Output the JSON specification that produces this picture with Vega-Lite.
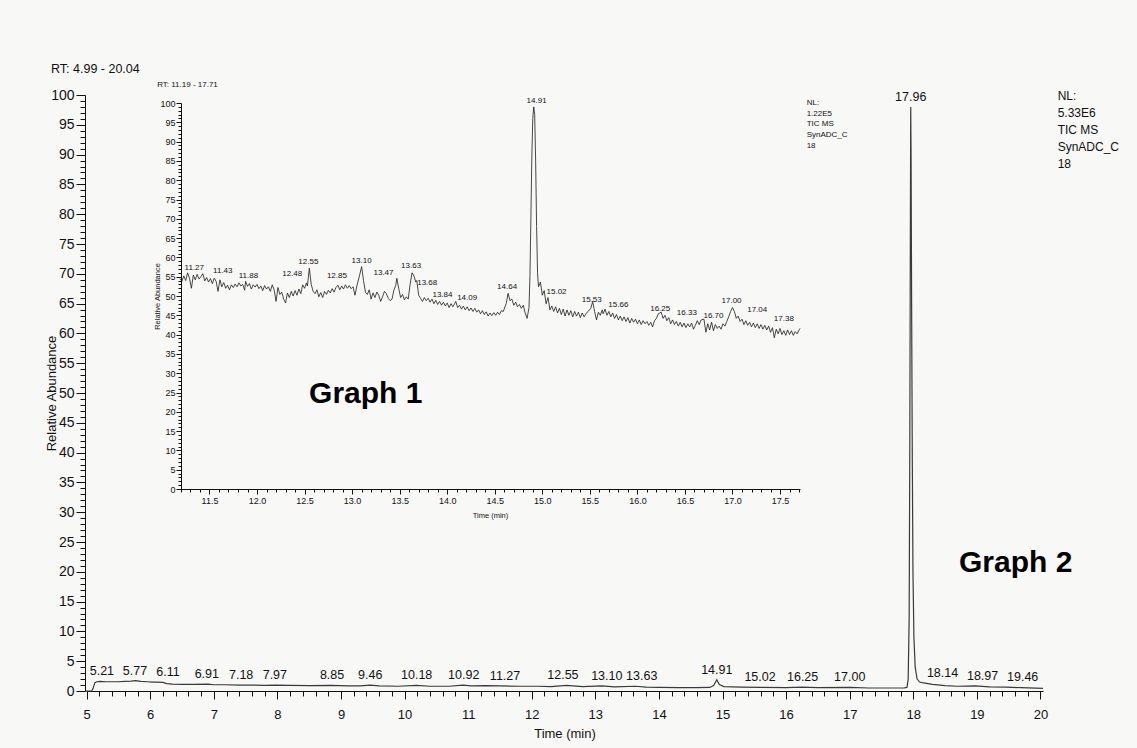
{
"$schema": "https://vega.github.io/schema/vega-lite/v6.json",
"width": 957, "height": 596,
"autosize": "none",
"padding": {"left": 86, "top": 95, "right": 94, "bottom": 57},
"background": "#f8f8f6",
"config": {"view": {"stroke": null}, "font": "Liberation Sans", "axis": {"grid": false, "domainColor": "#111", "tickColor": "#111", "labelColor": "#111", "titleColor": "#111", "labelOverlap": false, "labelFlush": false, "labelBound": false, "titleFontWeight": "normal", "labelFont": "Liberation Sans", "titleFont": "Liberation Sans"}},
"datasets": {
"main": [
{"rt":4.99,"ab":0},{"rt":5.08,"ab":0},{"rt":5.10,"ab":0.4},{"rt":5.13,"ab":1.4},{"rt":5.16,"ab":1.55},{"rt":5.21,"ab":1.6},{"rt":5.30,"ab":1.55},{"rt":5.40,"ab":1.55},{"rt":5.50,"ab":1.55},{"rt":5.60,"ab":1.6},{"rt":5.70,"ab":1.65},{"rt":5.77,"ab":1.75},{"rt":5.85,"ab":1.6},{"rt":5.95,"ab":1.55},{"rt":6.05,"ab":1.5},{"rt":6.11,"ab":1.5},{"rt":6.20,"ab":1.45},{"rt":6.26,"ab":1.25},{"rt":6.35,"ab":1.15},{"rt":6.50,"ab":1.1},{"rt":6.70,"ab":1.1},{"rt":6.91,"ab":1.15},{"rt":7.00,"ab":1.05},{"rt":7.18,"ab":1.05},{"rt":7.40,"ab":1.0},{"rt":7.60,"ab":1.0},{"rt":7.80,"ab":0.95},{"rt":7.97,"ab":1.0},{"rt":8.20,"ab":0.95},{"rt":8.50,"ab":0.9},{"rt":8.85,"ab":0.95},{"rt":9.10,"ab":0.85},{"rt":9.30,"ab":0.85},{"rt":9.46,"ab":1.0},{"rt":9.60,"ab":0.85},{"rt":9.90,"ab":0.8},{"rt":10.18,"ab":0.95},{"rt":10.40,"ab":0.8},{"rt":10.70,"ab":0.8},{"rt":10.92,"ab":1.0},{"rt":11.05,"ab":0.85},{"rt":11.27,"ab":0.9},{"rt":11.50,"ab":0.85},{"rt":11.80,"ab":0.8},{"rt":12.10,"ab":0.8},{"rt":12.30,"ab":0.75},{"rt":12.55,"ab":0.95},{"rt":12.80,"ab":0.75},{"rt":13.10,"ab":0.85},{"rt":13.30,"ab":0.7},{"rt":13.63,"ab":0.8},{"rt":13.80,"ab":0.65},{"rt":14.00,"ab":0.6},{"rt":14.30,"ab":0.55},{"rt":14.60,"ab":0.55},{"rt":14.80,"ab":0.6},{"rt":14.86,"ab":0.9},{"rt":14.91,"ab":1.9},{"rt":14.95,"ab":1.1},{"rt":15.02,"ab":0.75},{"rt":15.30,"ab":0.65},{"rt":15.60,"ab":0.6},{"rt":16.00,"ab":0.55},{"rt":16.25,"ab":0.65},{"rt":16.50,"ab":0.55},{"rt":17.00,"ab":0.6},{"rt":17.30,"ab":0.5},{"rt":17.60,"ab":0.5},{"rt":17.85,"ab":0.5},{"rt":17.90,"ab":0.6},{"rt":17.92,"ab":2.0},{"rt":17.935,"ab":12},{"rt":17.945,"ab":40},{"rt":17.955,"ab":80},{"rt":17.96,"ab":98},{"rt":17.965,"ab":90},{"rt":17.975,"ab":62},{"rt":17.985,"ab":38},{"rt":17.995,"ab":20},{"rt":18.01,"ab":9},{"rt":18.03,"ab":4},{"rt":18.06,"ab":2},{"rt":18.10,"ab":1.5},{"rt":18.14,"ab":1.4},{"rt":18.30,"ab":1.1},{"rt":18.50,"ab":0.9},{"rt":18.70,"ab":0.8},{"rt":18.97,"ab":0.85},{"rt":19.20,"ab":0.7},{"rt":19.46,"ab":0.65},{"rt":19.70,"ab":0.55},{"rt":20.04,"ab":0.45}
],
"mainPeaks": [
{"rt":5.21,"labelRt":5.24,"ab":1.6},{"rt":5.77,"labelRt":5.76,"ab":1.75},{"rt":6.11,"labelRt":6.28,"ab":1.5},{"rt":6.91,"labelRt":6.89,"ab":1.15},{"rt":7.18,"labelRt":7.43,"ab":1.05},{"rt":7.97,"labelRt":7.96,"ab":1.0},{"rt":8.85,"labelRt":8.86,"ab":0.95},{"rt":9.46,"labelRt":9.46,"ab":1.0},{"rt":10.18,"labelRt":10.19,"ab":0.95},{"rt":10.92,"labelRt":10.93,"ab":1.0},{"rt":11.27,"labelRt":11.58,"ab":0.9},{"rt":12.55,"labelRt":12.49,"ab":0.95},{"rt":13.10,"labelRt":13.18,"ab":0.85},{"rt":13.63,"labelRt":13.73,"ab":0.8},{"rt":14.91,"labelRt":14.91,"ab":1.9},{"rt":15.02,"labelRt":15.59,"ab":0.75},{"rt":16.25,"labelRt":16.26,"ab":0.65},{"rt":17.00,"labelRt":17.00,"ab":0.6},{"rt":17.96,"labelRt":17.96,"ab":98},{"rt":18.14,"labelRt":18.46,"ab":1.4},{"rt":18.97,"labelRt":19.09,"ab":0.85},{"rt":19.46,"labelRt":19.72,"ab":0.65}
],
"inset": [
{"rt":11.19,"ab":54.5},{"rt":11.21,"ab":53.8},{"rt":11.23,"ab":55.2},{"rt":11.25,"ab":54.0},{"rt":11.27,"ab":56.0},{"rt":11.29,"ab":54.6},{"rt":11.31,"ab":52.0},{"rt":11.33,"ab":55.4},{"rt":11.35,"ab":54.2},{"rt":11.37,"ab":55.6},{"rt":11.39,"ab":54.4},{"rt":11.41,"ab":55.0},{"rt":11.43,"ab":55.8},{"rt":11.45,"ab":53.9},{"rt":11.47,"ab":54.8},{"rt":11.49,"ab":53.6},{"rt":11.51,"ab":54.5},{"rt":11.53,"ab":53.2},{"rt":11.55,"ab":54.6},{"rt":11.57,"ab":53.8},{"rt":11.59,"ab":51.2},{"rt":11.61,"ab":54.2},{"rt":11.63,"ab":52.4},{"rt":11.65,"ab":53.5},{"rt":11.67,"ab":52.0},{"rt":11.69,"ab":52.8},{"rt":11.71,"ab":51.6},{"rt":11.73,"ab":52.9},{"rt":11.75,"ab":52.2},{"rt":11.77,"ab":53.1},{"rt":11.79,"ab":52.4},{"rt":11.81,"ab":53.4},{"rt":11.83,"ab":52.6},{"rt":11.85,"ab":53.0},{"rt":11.87,"ab":51.5},{"rt":11.88,"ab":53.8},{"rt":11.90,"ab":52.5},{"rt":11.92,"ab":53.2},{"rt":11.94,"ab":51.8},{"rt":11.96,"ab":52.9},{"rt":11.98,"ab":52.3},{"rt":12.00,"ab":53.0},{"rt":12.02,"ab":51.9},{"rt":12.04,"ab":52.6},{"rt":12.06,"ab":51.4},{"rt":12.08,"ab":52.7},{"rt":12.10,"ab":51.8},{"rt":12.12,"ab":52.4},{"rt":12.14,"ab":51.2},{"rt":12.16,"ab":52.9},{"rt":12.18,"ab":51.6},{"rt":12.20,"ab":48.6},{"rt":12.22,"ab":52.2},{"rt":12.24,"ab":50.4},{"rt":12.26,"ab":51.0},{"rt":12.28,"ab":49.2},{"rt":12.30,"ab":48.2},{"rt":12.32,"ab":50.8},{"rt":12.34,"ab":49.6},{"rt":12.36,"ab":51.2},{"rt":12.38,"ab":50.0},{"rt":12.40,"ab":51.4},{"rt":12.42,"ab":50.2},{"rt":12.44,"ab":51.8},{"rt":12.46,"ab":50.6},{"rt":12.48,"ab":52.9},{"rt":12.50,"ab":52.0},{"rt":12.52,"ab":53.4},{"rt":12.53,"ab":52.6},{"rt":12.55,"ab":57.2},{"rt":12.57,"ab":53.0},{"rt":12.59,"ab":51.2},{"rt":12.61,"ab":50.6},{"rt":12.63,"ab":51.6},{"rt":12.65,"ab":49.8},{"rt":12.67,"ab":50.9},{"rt":12.69,"ab":49.6},{"rt":12.71,"ab":51.2},{"rt":12.73,"ab":50.4},{"rt":12.75,"ab":51.5},{"rt":12.77,"ab":50.8},{"rt":12.79,"ab":51.9},{"rt":12.81,"ab":51.0},{"rt":12.83,"ab":52.2},{"rt":12.85,"ab":52.8},{"rt":12.87,"ab":51.6},{"rt":12.89,"ab":52.6},{"rt":12.91,"ab":51.8},{"rt":12.93,"ab":52.9},{"rt":12.95,"ab":52.0},{"rt":12.97,"ab":52.7},{"rt":12.99,"ab":51.9},{"rt":13.01,"ab":52.4},{"rt":13.03,"ab":50.2},{"rt":13.05,"ab":52.6},{"rt":13.08,"ab":55.5},{"rt":13.10,"ab":57.6},{"rt":13.12,"ab":54.0},{"rt":13.14,"ab":51.0},{"rt":13.16,"ab":50.4},{"rt":13.18,"ab":51.6},{"rt":13.20,"ab":49.2},{"rt":13.22,"ab":50.8},{"rt":13.24,"ab":49.6},{"rt":13.26,"ab":51.0},{"rt":13.28,"ab":50.2},{"rt":13.30,"ab":48.6},{"rt":13.32,"ab":49.8},{"rt":13.34,"ab":51.2},{"rt":13.36,"ab":50.6},{"rt":13.38,"ab":49.4},{"rt":13.40,"ab":48.8},{"rt":13.42,"ab":49.2},{"rt":13.44,"ab":51.6},{"rt":13.46,"ab":52.8},{"rt":13.47,"ab":54.6},{"rt":13.49,"ab":52.0},{"rt":13.51,"ab":49.6},{"rt":13.53,"ab":50.4},{"rt":13.55,"ab":49.0},{"rt":13.57,"ab":49.8},{"rt":13.59,"ab":49.2},{"rt":13.61,"ab":53.0},{"rt":13.63,"ab":56.0},{"rt":13.65,"ab":55.2},{"rt":13.67,"ab":53.6},{"rt":13.68,"ab":54.0},{"rt":13.70,"ab":50.2},{"rt":13.72,"ab":49.4},{"rt":13.74,"ab":48.6},{"rt":13.76,"ab":49.6},{"rt":13.78,"ab":48.8},{"rt":13.80,"ab":49.4},{"rt":13.82,"ab":48.4},{"rt":13.84,"ab":49.2},{"rt":13.86,"ab":48.0},{"rt":13.88,"ab":48.9},{"rt":13.90,"ab":47.8},{"rt":13.92,"ab":48.6},{"rt":13.94,"ab":47.6},{"rt":13.96,"ab":48.4},{"rt":13.98,"ab":47.4},{"rt":14.00,"ab":48.2},{"rt":14.02,"ab":47.0},{"rt":14.04,"ab":48.0},{"rt":14.06,"ab":47.2},{"rt":14.08,"ab":48.1},{"rt":14.09,"ab":48.6},{"rt":14.11,"ab":47.0},{"rt":14.13,"ab":47.6},{"rt":14.15,"ab":46.6},{"rt":14.17,"ab":47.4},{"rt":14.19,"ab":46.4},{"rt":14.21,"ab":47.2},{"rt":14.23,"ab":46.2},{"rt":14.25,"ab":46.9},{"rt":14.27,"ab":46.0},{"rt":14.29,"ab":46.8},{"rt":14.31,"ab":45.8},{"rt":14.33,"ab":46.4},{"rt":14.35,"ab":45.4},{"rt":14.37,"ab":46.2},{"rt":14.39,"ab":45.2},{"rt":14.41,"ab":45.9},{"rt":14.43,"ab":44.8},{"rt":14.45,"ab":45.6},{"rt":14.47,"ab":44.9},{"rt":14.49,"ab":45.7},{"rt":14.51,"ab":45.0},{"rt":14.53,"ab":45.8},{"rt":14.55,"ab":45.2},{"rt":14.57,"ab":46.2},{"rt":14.59,"ab":46.0},{"rt":14.61,"ab":47.4},{"rt":14.62,"ab":48.0},{"rt":14.64,"ab":50.7},{"rt":14.66,"ab":48.8},{"rt":14.68,"ab":49.2},{"rt":14.70,"ab":47.6},{"rt":14.72,"ab":48.4},{"rt":14.74,"ab":47.2},{"rt":14.76,"ab":47.8},{"rt":14.78,"ab":46.8},{"rt":14.80,"ab":47.6},{"rt":14.82,"ab":45.6},{"rt":14.84,"ab":44.2},{"rt":14.86,"ab":47.0},{"rt":14.87,"ab":55.0},{"rt":14.88,"ab":70.0},{"rt":14.89,"ab":86.0},{"rt":14.90,"ab":96.0},{"rt":14.91,"ab":99.0},{"rt":14.92,"ab":97.0},{"rt":14.93,"ab":85.0},{"rt":14.94,"ab":68.0},{"rt":14.95,"ab":56.0},{"rt":14.96,"ab":52.4},{"rt":14.98,"ab":53.6},{"rt":15.00,"ab":50.2},{"rt":15.02,"ab":51.4},{"rt":15.04,"ab":48.0},{"rt":15.06,"ab":49.6},{"rt":15.08,"ab":46.4},{"rt":15.10,"ab":47.4},{"rt":15.12,"ab":46.0},{"rt":15.14,"ab":47.2},{"rt":15.16,"ab":45.6},{"rt":15.18,"ab":46.8},{"rt":15.20,"ab":45.2},{"rt":15.22,"ab":46.6},{"rt":15.24,"ab":44.8},{"rt":15.26,"ab":46.4},{"rt":15.28,"ab":45.0},{"rt":15.30,"ab":46.2},{"rt":15.32,"ab":44.6},{"rt":15.34,"ab":46.0},{"rt":15.36,"ab":44.8},{"rt":15.38,"ab":45.8},{"rt":15.40,"ab":44.4},{"rt":15.42,"ab":45.6},{"rt":15.44,"ab":44.6},{"rt":15.46,"ab":45.4},{"rt":15.48,"ab":46.0},{"rt":15.51,"ab":46.8},{"rt":15.53,"ab":48.6},{"rt":15.55,"ab":46.0},{"rt":15.57,"ab":43.8},{"rt":15.59,"ab":45.8},{"rt":15.61,"ab":45.0},{"rt":15.63,"ab":46.4},{"rt":15.64,"ab":45.4},{"rt":15.66,"ab":46.6},{"rt":15.68,"ab":45.0},{"rt":15.70,"ab":46.0},{"rt":15.72,"ab":44.6},{"rt":15.74,"ab":45.6},{"rt":15.76,"ab":44.2},{"rt":15.78,"ab":45.2},{"rt":15.80,"ab":43.8},{"rt":15.82,"ab":44.8},{"rt":15.84,"ab":43.6},{"rt":15.86,"ab":44.6},{"rt":15.88,"ab":43.4},{"rt":15.90,"ab":44.4},{"rt":15.92,"ab":43.0},{"rt":15.94,"ab":44.2},{"rt":15.96,"ab":43.2},{"rt":15.98,"ab":44.0},{"rt":16.00,"ab":42.8},{"rt":16.02,"ab":43.8},{"rt":16.04,"ab":42.6},{"rt":16.06,"ab":43.6},{"rt":16.08,"ab":42.8},{"rt":16.10,"ab":43.4},{"rt":16.12,"ab":42.4},{"rt":16.14,"ab":43.2},{"rt":16.16,"ab":42.0},{"rt":16.18,"ab":43.6},{"rt":16.20,"ab":44.2},{"rt":16.22,"ab":45.4},{"rt":16.25,"ab":45.8},{"rt":16.27,"ab":44.2},{"rt":16.29,"ab":45.0},{"rt":16.31,"ab":43.6},{"rt":16.33,"ab":44.4},{"rt":16.35,"ab":42.8},{"rt":16.37,"ab":43.8},{"rt":16.39,"ab":42.6},{"rt":16.41,"ab":43.4},{"rt":16.43,"ab":42.2},{"rt":16.45,"ab":43.2},{"rt":16.47,"ab":42.0},{"rt":16.49,"ab":43.0},{"rt":16.51,"ab":41.8},{"rt":16.53,"ab":42.8},{"rt":16.55,"ab":42.0},{"rt":16.57,"ab":43.0},{"rt":16.59,"ab":41.4},{"rt":16.61,"ab":42.4},{"rt":16.63,"ab":43.6},{"rt":16.65,"ab":42.6},{"rt":16.67,"ab":43.8},{"rt":16.70,"ab":44.0},{"rt":16.72,"ab":40.6},{"rt":16.74,"ab":42.8},{"rt":16.76,"ab":41.2},{"rt":16.78,"ab":43.2},{"rt":16.80,"ab":41.0},{"rt":16.82,"ab":42.6},{"rt":16.84,"ab":41.6},{"rt":16.86,"ab":42.2},{"rt":16.88,"ab":41.4},{"rt":16.90,"ab":42.8},{"rt":16.92,"ab":42.2},{"rt":16.94,"ab":43.4},{"rt":16.96,"ab":44.6},{"rt":16.98,"ab":46.0},{"rt":17.00,"ab":47.0},{"rt":17.02,"ab":46.0},{"rt":17.04,"ab":44.2},{"rt":17.06,"ab":44.8},{"rt":17.08,"ab":43.4},{"rt":17.10,"ab":44.0},{"rt":17.12,"ab":42.6},{"rt":17.14,"ab":43.6},{"rt":17.16,"ab":42.4},{"rt":17.18,"ab":43.2},{"rt":17.20,"ab":42.0},{"rt":17.22,"ab":43.0},{"rt":17.24,"ab":41.8},{"rt":17.26,"ab":42.8},{"rt":17.28,"ab":41.6},{"rt":17.30,"ab":42.6},{"rt":17.32,"ab":41.4},{"rt":17.34,"ab":42.4},{"rt":17.36,"ab":41.2},{"rt":17.38,"ab":42.2},{"rt":17.40,"ab":40.6},{"rt":17.42,"ab":41.8},{"rt":17.44,"ab":39.2},{"rt":17.46,"ab":41.4},{"rt":17.48,"ab":40.2},{"rt":17.50,"ab":41.6},{"rt":17.52,"ab":40.0},{"rt":17.54,"ab":41.0},{"rt":17.56,"ab":39.8},{"rt":17.58,"ab":41.2},{"rt":17.60,"ab":40.0},{"rt":17.62,"ab":41.0},{"rt":17.64,"ab":39.8},{"rt":17.66,"ab":40.8},{"rt":17.68,"ab":40.2},{"rt":17.70,"ab":41.2},{"rt":17.71,"ab":41.6}
],
"insetPeaks": [
{"rt":11.27,"labelRt":11.34,"ab":56.0},{"rt":11.43,"labelRt":11.64,"ab":55.2},{"rt":11.88,"labelRt":11.91,"ab":54.0},{"rt":12.48,"labelRt":12.37,"ab":54.3},{"rt":12.55,"labelRt":12.54,"ab":57.5},{"rt":12.85,"labelRt":12.84,"ab":54.0},{"rt":13.10,"labelRt":13.10,"ab":57.7},{"rt":13.47,"labelRt":13.33,"ab":54.6},{"rt":13.63,"labelRt":13.62,"ab":56.6},{"rt":13.68,"labelRt":13.79,"ab":52.0},{"rt":13.84,"labelRt":13.95,"ab":49.0},{"rt":14.09,"labelRt":14.21,"ab":48.3},{"rt":14.64,"labelRt":14.63,"ab":51.0},{"rt":14.91,"labelRt":14.94,"ab":99.2},{"rt":15.02,"labelRt":15.15,"ab":49.7},{"rt":15.53,"labelRt":15.52,"ab":47.6},{"rt":15.66,"labelRt":15.80,"ab":46.3},{"rt":16.25,"labelRt":16.24,"ab":45.4},{"rt":16.33,"labelRt":16.52,"ab":44.4},{"rt":16.70,"labelRt":16.80,"ab":43.6},{"rt":17.00,"labelRt":16.99,"ab":47.4},{"rt":17.04,"labelRt":17.26,"ab":45.0},{"rt":17.38,"labelRt":17.54,"ab":42.8}
],
"mainRange": [{"t":4.44,"ab":104.4,"note":"RT: 4.99 - 20.04"}],
"mainNL": [{"t":20.27,"ab":100.6,"note":"NL:\n5.33E6\nTIC MS\nSynADC_C\n18"}],
"graphs": [{"t":9.39,"ab":49.8,"note":"Graph 1"},{"t":19.61,"ab":21.5,"note":"Graph 2"}],
"insetRange": [{"t":10.95,"ab":104.7,"note":"RT: 11.19 - 17.71"}],
"insetNL": [{"t":17.78,"ab":101.1,"note":"NL:\n1.22E5\nTIC MS\nSynADC_C\n18"}]
},
"layer": [
{
"layer": [
{"data": {"name": "main"},
 "mark": {"type": "line", "stroke": "#3a3a3a", "strokeWidth": 1.2, "interpolate": "linear"},
 "encoding": {
  "x": {"field": "rt", "type": "quantitative", "scale": {"domain": [4.99, 20.04], "nice": false, "zero": false},
   "axis": {"orient": "bottom", "title": "Time (min)", "titleFontSize": 13, "titlePadding": 6, "labelFontSize": 13, "tickCount": 75, "labelPadding": 9,
    "labelExpr": "abs(datum.value - round(datum.value)) < 0.001 ? format(datum.value, 'd') : ''",
    "tickSize": {"condition": {"test": "abs(datum.value - round(datum.value)) < 0.001", "value": 8}, "value": 5}}},
  "y": {"field": "ab", "type": "quantitative", "scale": {"domain": [0, 100], "nice": false, "zero": true},
   "axis": {"orient": "left", "title": "Relative Abundance", "titleFontSize": 13, "titlePadding": -8, "labelFontSize": 14, "tickCount": 100, "labelPadding": 2, "offset": 1,
    "labelExpr": "datum.value % 5 === 0 ? format(datum.value, 'd') : ''",
    "tickSize": {"condition": {"test": "datum.value % 5 === 0", "value": 9}, "value": 5}}}
 }},
{"data": {"name": "mainPeaks"},
 "mark": {"type": "text", "fontSize": 12.5, "baseline": "bottom", "dy": -3, "color": "#111"},
 "encoding": {
  "x": {"field": "labelRt", "type": "quantitative"},
  "y": {"field": "ab", "type": "quantitative"},
  "text": {"field": "rt", "type": "quantitative", "format": ".2f"}}},
{"data": {"name": "mainRange"},
 "mark": {"type": "text", "fontSize": 12.5, "align": "left", "baseline": "middle", "color": "#111"},
 "encoding": {"x": {"field": "t", "type": "quantitative"}, "y": {"field": "ab", "type": "quantitative"}, "text": {"field": "note"}}},
{"data": {"name": "mainNL"},
 "mark": {"type": "text", "fontSize": 12, "align": "left", "baseline": "top", "lineBreak": "\n", "lineHeight": 17, "color": "#111"},
 "encoding": {"x": {"field": "t", "type": "quantitative"}, "y": {"field": "ab", "type": "quantitative"}, "text": {"field": "note"}}},
{"data": {"name": "graphs"},
 "mark": {"type": "text", "fontSize": 30, "fontWeight": "bold", "align": "center", "baseline": "middle", "color": "#000"},
 "encoding": {"x": {"field": "t", "type": "quantitative"}, "y": {"field": "ab", "type": "quantitative"}, "text": {"field": "note"}}}
]
},
{
"layer": [
{"data": {"name": "inset"},
 "mark": {"type": "line", "stroke": "#1a1a1a", "strokeWidth": 0.8, "interpolate": "linear"},
 "encoding": {
  "x": {"field": "rt", "type": "quantitative", "scale": {"domain": [11.19, 17.71], "range": [94, 714], "nice": false, "zero": false},
   "axis": {"orient": "bottom", "offset": -202, "title": "Time (min)", "titleFontSize": 7.5, "titlePadding": 6, "labelFontSize": 9, "tickCount": 65, "labelPadding": 2,
    "labelExpr": "abs(datum.value * 2 - round(datum.value * 2)) < 0.001 ? format(datum.value, '.1f') : ''",
    "tickSize": {"condition": {"test": "abs(datum.value * 2 - round(datum.value * 2)) < 0.001", "value": 5}, "value": 3}}},
  "y": {"field": "ab", "type": "quantitative", "scale": {"domain": [0, 100], "range": [394, 8], "nice": false, "zero": true},
   "axis": {"orient": "left", "offset": -95, "title": "Relative Abundance", "titleFontSize": 7.5, "titlePadding": -2, "labelFontSize": 9, "tickCount": 100, "labelPadding": 1,
    "labelExpr": "datum.value % 5 === 0 ? format(datum.value, 'd') : ''",
    "tickSize": {"condition": {"test": "datum.value % 5 === 0", "value": 5}, "value": 3}}}
 }},
{"data": {"name": "insetPeaks"},
 "mark": {"type": "text", "fontSize": 8, "baseline": "bottom", "dy": -1, "color": "#111"},
 "encoding": {
  "x": {"field": "labelRt", "type": "quantitative"},
  "y": {"field": "ab", "type": "quantitative"},
  "text": {"field": "rt", "type": "quantitative", "format": ".2f"}}},
{"data": {"name": "insetRange"},
 "mark": {"type": "text", "fontSize": 8, "align": "left", "baseline": "middle", "color": "#111"},
 "encoding": {"x": {"field": "t", "type": "quantitative"}, "y": {"field": "ab", "type": "quantitative"}, "text": {"field": "note"}}},
{"data": {"name": "insetNL"},
 "mark": {"type": "text", "fontSize": 8, "align": "left", "baseline": "top", "lineBreak": "\n", "lineHeight": 10.8, "color": "#111"},
 "encoding": {"x": {"field": "t", "type": "quantitative"}, "y": {"field": "ab", "type": "quantitative"}, "text": {"field": "note"}}}
]
}
],
"resolve": {"scale": {"x": "independent", "y": "independent"}}
}
